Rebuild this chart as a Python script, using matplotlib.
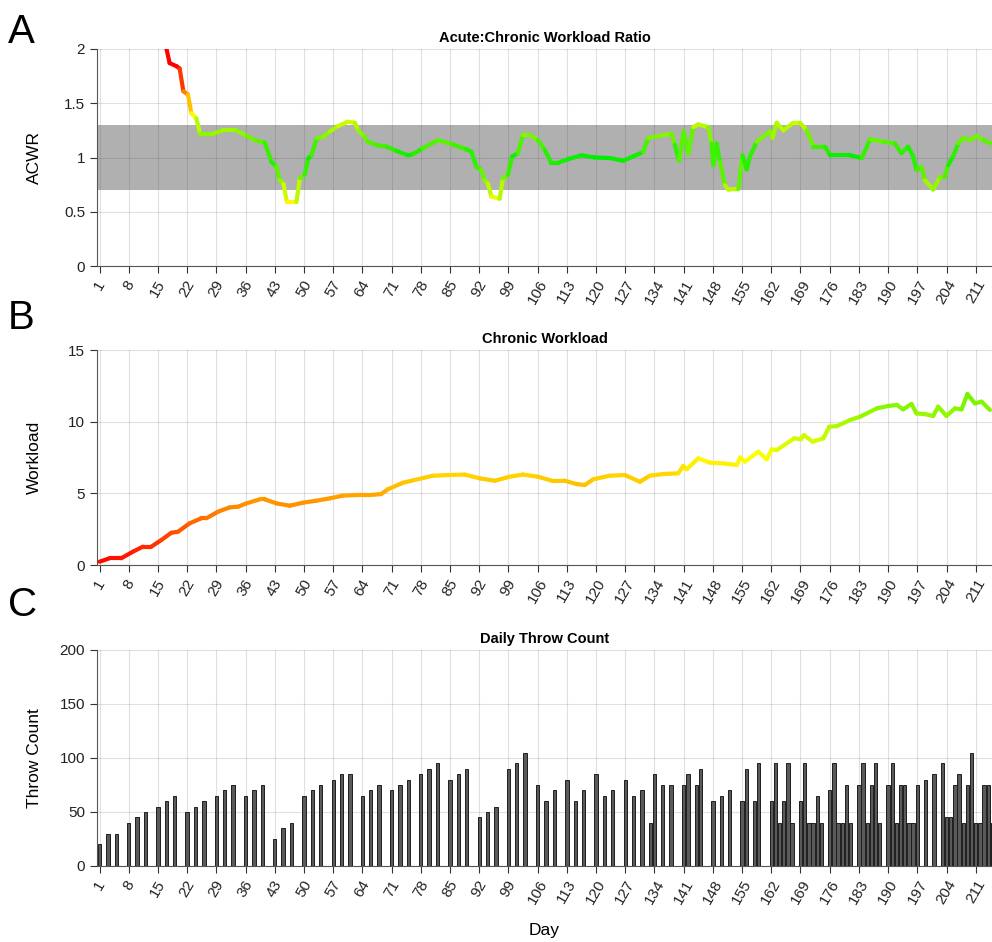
import numpy as np
import matplotlib
matplotlib.use('Agg')
import matplotlib.pyplot as plt
from matplotlib.collections import LineCollection
from matplotlib.colors import LinearSegmentedColormap

plt.rcParams['font.family'] = ['Liberation Sans', 'DejaVu Sans']

# throwing days and the number of throws on each
throw_days = [1, 3, 5, 8, 10, 12, 15, 17, 19, 22, 24, 26, 29, 31, 33, 36, 38, 40,
              43, 45, 47, 50, 52, 54, 57, 59, 61, 64, 66, 68, 71, 73, 75, 78, 80, 82,
              85, 87, 89, 92, 94, 96, 99, 101, 103, 106, 108, 110, 113, 115, 117,
              120, 122, 124, 127, 129, 131, 133, 134, 136, 138, 141, 142, 144, 145,
              148, 150, 152, 155, 156, 158, 159, 162, 163, 164, 165, 166, 167,
              169, 170, 171, 172, 173, 174, 176, 177, 178, 179, 180, 181,
              183, 184, 185, 186, 187, 188, 190, 191, 192, 193, 194, 195, 196, 197,
              199, 201, 203, 204, 205, 206, 207, 208, 209, 210, 211, 212, 213, 214, 215]
throw_counts = [20, 30, 30, 40, 45, 50, 55, 60, 65, 50, 55, 60, 65, 70, 75, 65, 70, 75,
                25, 35, 40, 65, 70, 75, 80, 85, 85, 65, 70, 75, 70, 75, 80, 85, 90, 95,
                80, 85, 90, 45, 50, 55, 90, 95, 105, 75, 60, 70, 80, 60, 70,
                85, 65, 70, 80, 65, 70, 40, 85, 75, 75, 75, 85, 75, 90,
                60, 65, 70, 60, 90, 60, 95, 60, 95, 40, 60, 95, 40,
                60, 95, 40, 40, 65, 40, 70, 95, 40, 40, 75, 40,
                75, 95, 40, 75, 95, 40, 75, 95, 40, 75, 75, 40, 40, 75,
                80, 85, 95, 45, 45, 75, 85, 40, 75, 105, 40, 40, 75, 75, 40]

# acute:chronic workload ratio
acwr_days = [16, 17, 17.8, 19.5, 20.2, 21.1, 22.2, 23.0, 24.2, 25.1, 28.2, 30.6, 33.8,
             36.2, 38.6, 40.6, 42.2, 43.4, 44.2, 45.1, 45.9, 48.2, 49.0, 50.2, 51.0,
             51.8, 53.1, 54.6, 56.2, 58.2, 60.5, 62.2, 63.0, 64.5, 65.3, 67.4, 69.8,
             72.2, 74.9, 76.1, 78.5, 82.1, 85.7, 88.9, 90.1, 91.3, 92.5, 93.3, 94.1,
             94.9, 96.9, 97.7, 98.9, 99.9, 101.3, 102.5, 104.1, 106.1, 107.7, 109.3,
             110.9, 112.9, 116.5, 119.7, 123.3, 126.5, 128.9, 131.3, 132.5, 135.3,
             138.1, 138.9, 139.9, 141.0, 142.1, 143.3, 144.5, 146.9, 147.7, 148.1,
             148.9, 149.7, 150.9, 151.7, 154.1, 155.1, 156.1, 156.9, 158.5, 161.7,
             162.3, 163.3, 164.9, 167.3, 168.9, 170.5, 172.1, 174.9, 176.1, 180.9,
             183.7, 185.7, 188.8, 191.6, 193.2, 194.8, 196.0, 196.8, 198.0, 198.8,
             200.8, 202.4, 203.6, 204.4, 205.6, 206.8, 208.0, 209.6, 211.2, 212.8, 214.8]
acwr_vals = [2.25, 2.01, 1.87, 1.84, 1.82, 1.61, 1.58, 1.41, 1.36, 1.22, 1.22, 1.25, 1.25,
             1.20, 1.155, 1.14, 0.96, 0.915, 0.79, 0.755, 0.59, 0.59, 0.81, 0.84, 0.99,
             1.02, 1.18, 1.19, 1.24, 1.29, 1.33, 1.32, 1.25, 1.19, 1.145, 1.115, 1.10,
             1.06, 1.02, 1.03, 1.085, 1.16, 1.12, 1.075, 1.055, 0.915, 0.885, 0.79, 0.76,
             0.64, 0.62, 0.81, 0.84, 1.01, 1.04, 1.21, 1.21, 1.16, 1.07, 0.95,
             0.95, 0.98, 1.02, 1.00, 0.995, 0.97, 1.01, 1.05, 1.18, 1.20,
             1.22, 1.115, 0.97, 1.24, 1.03, 1.28, 1.305, 1.28, 1.13, 0.93,
             1.13, 0.96, 0.745, 0.705, 0.71, 1.02, 0.89, 1.01, 1.145, 1.24,
             1.18, 1.32, 1.25, 1.32, 1.32, 1.25, 1.10, 1.10, 1.02, 1.02,
             0.995, 1.17, 1.145, 1.13, 1.04, 1.10, 1.01, 0.885, 0.915, 0.79,
             0.705, 0.82, 0.82, 0.93, 1.01, 1.13, 1.18, 1.16, 1.20, 1.16, 1.13]

# chronic workload
chronic_days = [1, 3.4, 6.2, 9.0, 11.4, 13.4, 15.8, 18.2, 19.8, 22.6, 25.4, 26.6, 29.4,
                32.2, 34.2, 36.2, 39.4, 40.6, 43.4, 46.6, 49.8, 53.0, 56.2, 59.3, 62.5,
                65.7, 68.5, 70.1, 73.7, 76.5, 80.9, 84.9, 88.5, 92.1, 95.7, 99.3, 102.5,
                106.1, 109.7, 112.5, 115.3, 117.3, 119.3, 123.3, 126.9, 130.5, 132.9,
                136.1, 139.7, 140.9, 141.7, 144.5, 147.3, 150.5, 153.7, 154.6, 155.7,
                158.9, 160.9, 162.1, 163.3, 167.5, 169.1, 169.8, 171.9, 174.5, 175.9,
                177.7, 180.9, 183.3, 187.3, 190.1, 192.1, 193.6, 195.6, 196.8, 198.8,
                200.8, 202.0, 204.0, 206.0, 207.6, 209.0, 210.8, 212.4, 214.4]
chronic_vals = [0.23, 0.47, 0.47, 0.93, 1.28, 1.28, 1.74, 2.25, 2.32, 2.91, 3.26, 3.26, 3.72,
                4.02, 4.07, 4.30, 4.58, 4.58, 4.30, 4.14, 4.35, 4.49, 4.65, 4.84, 4.88,
                4.88, 4.95, 5.28, 5.74, 5.93, 6.23, 6.28, 6.31, 6.05, 5.88, 6.16, 6.31,
                6.16, 5.86, 5.88, 5.65, 5.58, 5.98, 6.23, 6.28, 5.81, 6.23,
                6.35, 6.40, 6.91, 6.68, 7.44, 7.14, 7.09, 6.98, 7.51, 7.21,
                7.91, 7.37, 8.07, 8.02, 8.84, 8.77, 9.07, 8.61, 8.84, 9.65,
                9.69, 10.12, 10.35, 10.93, 11.10, 11.17, 10.86, 11.24, 10.58, 10.53,
                10.40, 11.05, 10.40, 10.93, 10.86, 11.93, 11.28, 11.40, 10.82]

ryg = LinearSegmentedColormap.from_list('ryg', ['#ff0000', '#ffff00', '#00ee00'])

tick_days = list(range(1, 212, 7))
xlim = (0.4, 214.9)


def colored_line(ax, x, y, c, norm):
    pts = np.column_stack([x, y]).reshape(-1, 1, 2)
    segs = np.concatenate([pts[:-1], pts[1:]], axis=1)
    cv = np.asarray(c)
    cseg = (cv[:-1] + cv[1:]) / 2
    lc = LineCollection(segs, cmap=ryg, norm=norm, linewidths=3.0,
                        capstyle='round', joinstyle='round', zorder=3)
    lc.set_array(cseg)
    ax.add_collection(lc)


def style_axes(ax, title, ylabel):
    ax.set_xlim(*xlim)
    ax.set_xticks(tick_days)
    ax.set_xticklabels([str(d) for d in tick_days], rotation=60,
                       ha='center', va='top')
    ax.tick_params(axis='both', direction='out', length=5, width=0.8,
                   colors='#333333', labelsize=11, labelcolor='#222222')
    ax.grid(True, color='#000000', alpha=0.12, linewidth=0.8)
    ax.set_axisbelow(True)
    for s in ['top', 'right']:
        ax.spines[s].set_visible(False)
    for s in ['left', 'bottom']:
        ax.spines[s].set_color('#555555')
        ax.spines[s].set_linewidth(0.8)
    ax.set_title(title, fontsize=10.5, fontweight='bold', pad=5)
    ax.set_ylabel(ylabel, fontsize=12.5)
    ax.yaxis.set_label_coords(-0.062, 0.5)


fig = plt.figure(figsize=(9.92, 9.42), dpi=100)
ax1 = fig.add_axes([0.0978, 0.7176, 0.9022, 0.2304])
ax2 = fig.add_axes([0.0978, 0.4002, 0.9022, 0.2282])
ax3 = fig.add_axes([0.0978, 0.0807, 0.9022, 0.2293])

# A: ratio with the 0.7-1.3 band
ax1.axhspan(0.7, 1.3, color='#505050', alpha=0.45, lw=0, zorder=1)
dev = 1 - np.abs(np.array(acwr_vals) - 1) / 0.8
colored_line(ax1, acwr_days, acwr_vals, dev, plt.Normalize(0, 1))
ax1.set_ylim(0, 2)
ax1.set_yticks([0, 0.5, 1, 1.5, 2])
ax1.set_yticklabels(['0', '0.5', '1', '1.5', '2'])
style_axes(ax1, 'Acute:Chronic Workload Ratio', 'ACWR')

# B: chronic workload
colored_line(ax2, chronic_days, chronic_vals, chronic_vals, plt.Normalize(0, 15))
ax2.set_ylim(0, 15)
ax2.set_yticks([0, 5, 10, 15])
style_axes(ax2, 'Chronic Workload', 'Workload')

# C: daily throws
ax3.bar(throw_days, throw_counts, width=0.8, color='#5a5a5a',
        edgecolor='#1e1e1e', linewidth=0.7, zorder=2)
ax3.set_ylim(0, 200)
ax3.set_yticks([0, 50, 100, 150, 200])
style_axes(ax3, 'Daily Throw Count', 'Throw Count')
ax3.set_xlabel('Day', fontsize=12.5)
ax3.xaxis.set_label_coords(0.5, -0.265)

for letter, y in [('A', 0.966), ('B', 0.6624), ('C', 0.3577)]:
    fig.text(0.008, y, letter, fontsize=29, va='center', ha='left')

fig.savefig('out.png', dpi=100)
